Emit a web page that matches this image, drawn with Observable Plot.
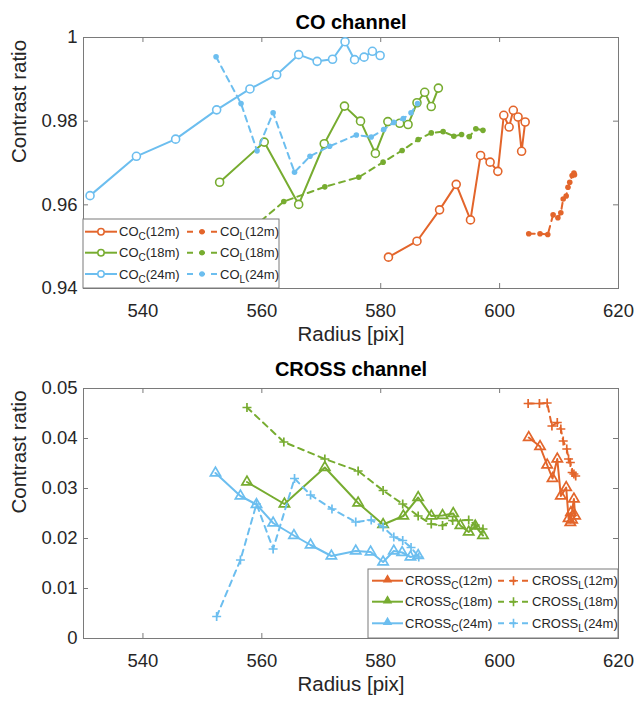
<!DOCTYPE html>
<html>
<head>
<meta charset="utf-8">
<script src="https://cdn.jsdelivr.net/npm/d3@7"></script>
<script src="https://cdn.jsdelivr.net/npm/@observablehq/plot@0.6"></script>
<style>
  html, body { margin: 0; padding: 0; background: #fff; }
  #chart { width: 636px; }
  #chart svg { display: block; }
</style>
</head>
<body>
<div id="chart"></div>
<script>
// ---------- data ----------
const xTicks = [540, 560, 580, 600, 620];
const coTicks = [0.94, 0.96, 0.98, 1];
const crossTicks = [0, 0.01, 0.02, 0.03, 0.04, 0.05];

const coTitle = "CO channel";
const crossTitle = "CROSS channel";
const xLabel = "Radius [pix]";
const yLabel = "Contrast ratio";

const distances = ["12m", "18m", "24m"];
const seriesColors = ["#E3652B", "#77AC30", "#6CBEEF"];

// CO channel, [radius, contrast ratio]
const coC12 = [[581.3,0.9475],[586.1,0.9513],[589.9,0.9588],[592.7,0.9649],[595.1,0.9564],[596.8,0.9718],[598.4,0.9702],[599.7,0.9680],[600.7,0.9814],[601.6,0.9786],[602.3,0.9826],[603.1,0.9810],[603.7,0.9728],[604.3,0.9798]];
const coL12 = [[604.9,0.9531],[606.8,0.9531],[608.1,0.9529],[609.0,0.9576],[609.8,0.9569],[610.3,0.9581],[610.7,0.9614],[611.2,0.9621],[611.5,0.9642],[611.8,0.9654],[612.2,0.9670],[612.5,0.9676],[612.6,0.9672]];
const coC18 = [[552.9,0.9654],[560.4,0.9750],[566.2,0.9601],[570.5,0.9746],[573.9,0.9836],[576.6,0.9800],[579.1,0.9723],[581.2,0.9799],[583.2,0.9795],[584.6,0.9792],[586.1,0.9844],[587.4,0.9869],[588.5,0.9835],[589.7,0.9879]];
const coL18 = [[558.5,0.9545],[563.7,0.9608],[570.6,0.9643],[576.3,0.9666],[580.4,0.9702],[583.6,0.9730],[586.3,0.9756],[588.5,0.9772],[590.5,0.9775],[592.3,0.9764],[593.6,0.9768],[594.9,0.9763],[596.0,0.9782],[597.2,0.9778]];
const coC24 = [[531.1,0.9622],[538.9,0.9716],[545.5,0.9757],[552.4,0.9827],[558.0,0.9877],[562.5,0.9911],[566.2,0.9959],[569.3,0.9943],[571.9,0.9948],[574.0,0.9990],[575.6,0.9947],[577.2,0.9953],[578.6,0.9967],[579.9,0.9957]];
const coL24 = [[552.3,0.9954],[556.5,0.9842],[559.2,0.9729],[561.9,0.9820],[565.5,0.9678],[568.1,0.9716],[571.4,0.9740],[575.9,0.9767],[578.4,0.9762],[580.5,0.9780],[582.2,0.9797],[583.8,0.9806],[585.1,0.9820],[586.2,0.9842]];

// CROSS channel, [radius, contrast ratio]
const crossC12 = [[604.9,0.0402],[606.8,0.0384],[608.0,0.0347],[608.9,0.0320],[609.7,0.0359],[610.3,0.0285],[611.2,0.0302],[611.6,0.0240],[612.0,0.0252],[611.9,0.0232],[612.5,0.0279],[612.7,0.0245],[612.2,0.0237]];
const crossL12 = [[604.8,0.0470],[606.7,0.0470],[608.0,0.0471],[608.8,0.0425],[609.7,0.0432],[610.3,0.0419],[610.7,0.0395],[611.3,0.0379],[611.6,0.0359],[611.9,0.0352],[612.2,0.0332],[612.5,0.0329],[612.8,0.0325]];
const crossC18 = [[557.5,0.0313],[563.8,0.0269],[570.6,0.0342],[576.2,0.0271],[580.4,0.0228],[583.8,0.0245],[586.3,0.0282],[588.5,0.0245],[590.4,0.0246],[592.2,0.0250],[593.4,0.0226],[594.8,0.0213],[595.9,0.0225],[597.2,0.0206]];
const crossL18 = [[557.5,0.0462],[563.7,0.0393],[570.6,0.0359],[576.2,0.0335],[580.4,0.0296],[583.7,0.0269],[586.3,0.0245],[588.5,0.0229],[590.4,0.0226],[592.1,0.0236],[594.8,0.0237],[595.9,0.0227],[597.2,0.0219]];
const crossC24 = [[552.2,0.0331],[556.4,0.0285],[559.1,0.0268],[561.9,0.0231],[565.4,0.0206],[568.2,0.0187],[571.7,0.0165],[575.8,0.0175],[578.3,0.0173],[580.4,0.0153],[582.2,0.0175],[583.6,0.0172],[585.0,0.0163],[586.3,0.0166]];
const crossL24 = [[552.4,0.0044],[556.4,0.0157],[559.1,0.0269],[561.9,0.0179],[565.5,0.0320],[568.2,0.0287],[571.8,0.0259],[575.8,0.0233],[578.4,0.0237],[580.4,0.0223],[582.2,0.0203],[583.7,0.0196],[585.1,0.0182],[586.4,0.0163]];

// ---------- drawing ----------
const FONT = "'Liberation Sans', Arial, Helvetica, sans-serif";
const FRAME = "#7a7a7a";
const TEXT = "#262626";
const xDomain = [530, 620];

function makeChart(cfg) {
  const {height, mTop, mBottom, yDomain, yTicks, title, titleDy, solid, dashed, solidSym, dashedSym} = cfg;
  const mLeft = 83, mRight = 18;
  const plotW = 636 - mLeft - mRight;
  const plotH = height - mTop - mBottom;
  const tx = (xDomain[1] - xDomain[0]) * 5 / plotW; // 5px in x units
  const ty = (yDomain[1] - yDomain[0]) * 5 / plotH; // 5px in y units
  const acc = {x: d => d[0], y: d => d[1]};
  const marks = [
    Plot.frame({stroke: FRAME, strokeWidth: 1}),
    Plot.ruleX(xTicks, {x: d => d, y1: yDomain[0], y2: yDomain[0] + ty, stroke: FRAME}),
    Plot.ruleX(xTicks, {x: d => d, y1: yDomain[1], y2: yDomain[1] - ty, stroke: FRAME}),
    Plot.ruleY(yTicks, {y: d => d, x1: xDomain[0], x2: xDomain[0] + tx, stroke: FRAME}),
    Plot.ruleY(yTicks, {y: d => d, x1: xDomain[1], x2: xDomain[1] - tx, stroke: FRAME}),
    Plot.axisX(xTicks, {tickSize: 0, tickPadding: 15, fontSize: 18.5, fill: TEXT, label: null, fontFamily: FONT}),
    Plot.axisY(yTicks, {tickSize: 0, tickPadding: 6, fontSize: 18.5, fill: TEXT, label: null, tickFormat: d => String(d), fontFamily: FONT}),
    Plot.text([xLabel], {frameAnchor: "bottom", lineAnchor: "top", dy: 38, fontSize: 20.5, fill: TEXT, fontFamily: FONT}),
    Plot.text([yLabel], {frameAnchor: "left", rotate: -90, dx: -64, fontSize: 20.5, fill: TEXT, fontFamily: FONT}),
    Plot.text([title], {frameAnchor: "top", lineAnchor: "top", dy: titleDy, fontSize: 20, fontWeight: "bold", fill: "#000", fontFamily: FONT})
  ];
  for (let i = 0; i < 3; i++) {
    const c = seriesColors[i];
    marks.push(Plot.line(solid[i], {...acc, stroke: c, strokeWidth: 2}));
    marks.push(Plot.line(dashed[i], {...acc, stroke: c, strokeWidth: 2, strokeDasharray: "6,5"}));
    if (solidSym === "circle") {
      marks.push(Plot.dot(solid[i], {...acc, r: 4, stroke: c, strokeWidth: 1.6, fill: "white"}));
    } else {
      marks.push(Plot.dot(solid[i], {...acc, r: 3.8, symbol: "triangle", stroke: c, strokeWidth: 1.7, fill: "none"}));
    }
    if (dashedSym === "dot") {
      marks.push(Plot.dot(dashed[i], {...acc, r: 2.8, fill: c, stroke: "none"}));
    } else {
      marks.push(Plot.dot(dashed[i], {...acc, r: 3.0, symbol: "plus", stroke: c, strokeWidth: 1.7}));
    }
  }
  return Plot.plot({
    width: 636, height,
    marginLeft: mLeft, marginRight: mRight, marginTop: mTop, marginBottom: mBottom,
    x: {domain: xDomain},
    y: {domain: yDomain},
    style: {fontFamily: FONT, background: "white", overflow: "visible"},
    marks
  });
}

function addLegend(svg, box, rows, base, solidSym, dashedSym) {
  const g = d3.select(svg).append("g").attr("font-family", FONT).attr("font-size", 13)
    .attr("fill", TEXT).attr("text-anchor", "start");
  g.append("rect").attr("x", box.x).attr("y", box.y).attr("width", box.w).attr("height", box.h)
    .attr("fill", "white").attr("stroke", FRAME).attr("stroke-width", 1);
  rows.forEach((r, i) => {
    const c = seriesColors[i];
    const cy = box.rowY[i];
    g.append("line").attr("x1", box.s1[0]).attr("x2", box.s1[1]).attr("y1", cy).attr("y2", cy)
      .attr("stroke", c).attr("stroke-width", 2);
    const mx = (box.s1[0] + box.s1[1]) / 2;
    if (solidSym === "circle") {
      g.append("circle").attr("cx", mx).attr("cy", cy).attr("r", 3.2).attr("fill", "white").attr("stroke", c).attr("stroke-width", 1.5);
    } else {
      g.append("path").attr("d", d3.symbol(d3.symbolTriangle2, 36)()).attr("transform", `translate(${mx},${cy - 1})`)
        .attr("fill", c).attr("stroke", c).attr("stroke-width", 1.4);
    }
    const t1 = g.append("text").attr("x", box.s1[1] + 2).attr("y", cy).attr("dy", "0.35em");
    t1.append("tspan").text(base);
    t1.append("tspan").attr("font-size", 10).attr("dy", 4).text("C");
    t1.append("tspan").attr("dy", -4).text("(" + r + ")");
    g.append("line").attr("x1", box.s2[0]).attr("x2", box.s2[1]).attr("y1", cy).attr("y2", cy)
      .attr("stroke", c).attr("stroke-width", 2).attr("stroke-dasharray", "6,6").attr("stroke-dashoffset", -1);
    const mx2 = (box.s2[0] + box.s2[1]) / 2;
    if (dashedSym === "dot") {
      g.append("circle").attr("cx", mx2).attr("cy", cy).attr("r", 2.7).attr("fill", c);
    } else {
      g.append("path").attr("d", d3.symbol(d3.symbolPlus, 28)()).attr("transform", `translate(${mx2},${cy})`)
        .attr("fill", "none").attr("stroke", c).attr("stroke-width", 1.6);
    }
    const t2 = g.append("text").attr("x", box.s2[1] + 2).attr("y", cy).attr("dy", "0.35em");
    t2.append("tspan").text(base);
    t2.append("tspan").attr("font-size", 10).attr("dy", 4).text("L");
    t2.append("tspan").attr("dy", -4).text("(" + r + ")");
  });
}

const topChart = makeChart({
  height: 345, mTop: 37, mBottom: 57, yDomain: [0.94, 1], yTicks: coTicks,
  title: coTitle, titleDy: -23,
  solid: [coC12, coC18, coC24], dashed: [coL12, coL18, coL24],
  solidSym: "circle", dashedSym: "dot"
});
addLegend(topChart, {x: 83, y: 219, w: 196, h: 69, rowY: [231.7, 252.7, 274],
  s1: [85, 117], s2: [186, 218]}, distances, "CO", "circle", "dot");

const bottomChart = makeChart({
  height: 356, mTop: 43, mBottom: 63, yDomain: [0, 0.05], yTicks: crossTicks,
  title: crossTitle, titleDy: -27,
  solid: [crossC12, crossC18, crossC24], dashed: [crossL12, crossL18, crossL24],
  solidSym: "triangle", dashedSym: "plus"
});
addLegend(bottomChart, {x: 368, y: 224, w: 250, h: 69, rowY: [235.7, 256.7, 278.3],
  s1: [372, 403], s2: [497, 530]}, distances, "CROSS", "triangle", "plus");

document.getElementById("chart").append(topChart, bottomChart);
</script>
</body>
</html>
